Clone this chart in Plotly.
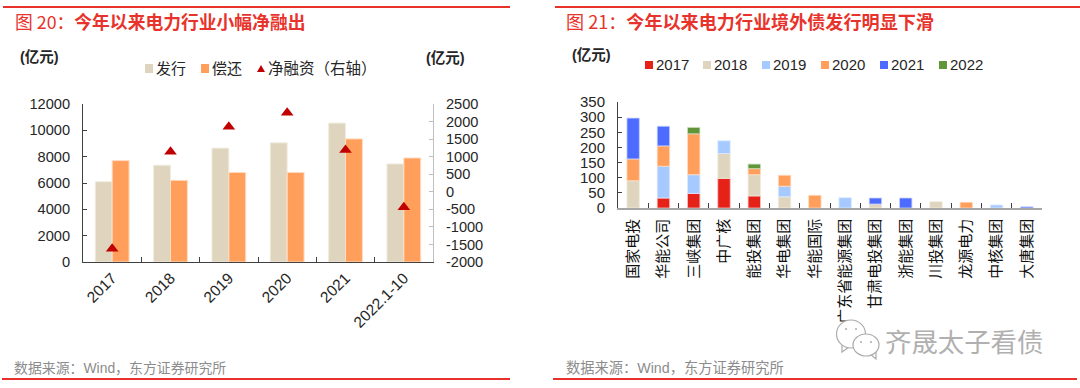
import plotly.graph_objects as go

W, H = 1080, 388
FONT = "Liberation Sans, Noto Sans CJK SC, sans-serif"
CJK = "Noto Sans CJK SC, sans-serif"

BEIGE, ORANGE, TRI = "#DFD5BE", "#FF9F5B", "#C00000"
RED, LBLUE, BLUE, GREEN = "#E62117", "#A6CAFF", "#4D6BFF", "#5F963A"
HALO = {BEIGE: "#F1ECE0", ORANGE: "#FFDCC3", RED: "#F7C0BC", LBLUE: "#DCEAFF", BLUE: "#C9D3FF", GREEN: "#CBDDBF"}
DARK = "#262626"

# ---- left chart data
years = ["2017", "2018", "2019", "2020", "2021", "2022.1-10"]
issue = [6100, 7350, 8650, 9050, 10550, 7450]
repay = [7700, 6200, 6800, 6800, 9350, 7900]
net = [-1620, 1140, 1850, 2250, 1190, -440]
left_ticks = [0, 2000, 4000, 6000, 8000, 10000, 12000]
right_ticks = [-2000, -1500, -1000, -500, 0, 500, 1000, 1500, 2000, 2500]
right_labels = ["-2000", "-1500", "-1000", "-500", "0", "500", "1000", "1500", "2000", "2500"]

# ---- right chart data
firms = ["国家电投", "华能公司", "三峡集团", "中广核", "能投集团", "华电集团", "华能国际",
         "广东省能源集团", "甘肃电投集团", "浙能集团", "川投集团", "龙源电力", "中核集团", "大唐集团"]
s2017 = [None, 33, 48, 98, 40, None, None, None, None, None, None, None, None, None]
s2018 = [90, None, None, 82, 70, 37, None, None, 13, None, 21, None, None, None]
s2019 = [None, 105, 62, 42, None, 35, None, 34, None, None, None, None, 10, None]
s2020 = [72, 67, 135, None, 20, 36, 42, None, None, None, None, 19, None, None]
s2021 = [135, 65, None, None, None, None, None, None, 20, 33, None, None, None, 4]
s2022 = [None, None, 21, None, 15, None, None, None, None, None, None, None, None, None]

NET_LABEL = "净融资\uff08右轴\uff09"
SOURCE = "数据来源\uff1aWind\uff0c东方证券研究所"
TITLE_L = "图 20\uff1a<b>今年以来电力行业小幅净融出</b>"
TITLE_R = "图 21\uff1a<b>今年以来电力行业境外债发行明显下滑</b>"

fig = go.Figure()
fig.add_trace(go.Bar(x=years, y=issue, name="发行", marker=dict(color=BEIGE, line=dict(color=HALO[BEIGE], width=1)),
                     xaxis="x", yaxis="y"))
fig.add_trace(go.Bar(x=years, y=repay, name="偿还", marker=dict(color=ORANGE, line=dict(color=HALO[ORANGE], width=1)),
                     xaxis="x", yaxis="y"))
fig.add_trace(go.Scatter(x=years, y=net, name=NET_LABEL, mode="markers", xaxis="x", yaxis="y2",
                         marker=dict(symbol="triangle-up", size=11, color=TRI)))
for name, vals, col in [("2017", s2017, RED), ("2018", s2018, BEIGE), ("2019", s2019, LBLUE),
                        ("2020", s2020, ORANGE), ("2021", s2021, BLUE), ("2022", s2022, GREEN)]:
    fig.add_trace(go.Bar(x=firms, y=vals, name=name, marker=dict(color=col, line=dict(color=HALO[col], width=0.8)),
                         xaxis="x2", yaxis="y3"))


def px(v):
    return v / W


def py(v):
    return 1 - v / H


tf = dict(family=FONT, size=14.6, color=DARK)
shapes, notes = [], []


def line(x0, x1, y):
    shapes.append(dict(type="line", xref="paper", yref="paper", x0=px(x0), x1=px(x1), y0=py(y), y1=py(y),
                       line=dict(color="#E8312A", width=2)))


def text(x, y, s, size=15, color=DARK, family=FONT, anchor="left"):
    notes.append(dict(xref="paper", yref="paper", x=px(x), y=py(y), text=s, showarrow=False, xanchor=anchor,
                      yanchor="middle", font=dict(size=size, color=color, family=family),
                      borderpad=0, borderwidth=0, align="left"))


def swatch(x0, x1, y0, y1, col):
    shapes.append(dict(type="rect", xref="paper", yref="paper", x0=px(x0), x1=px(x1), y0=py(y0), y1=py(y1),
                       fillcolor=col, line=dict(width=0)))


def poly(points, fill, edge=None):
    path = "M " + " L ".join(f"{px(x)} {py(y)}" for x, y in points) + " Z"
    shapes.append(dict(type="path", xref="paper", yref="paper", path=path, fillcolor=fill,
                       line=dict(color=edge, width=1.2) if edge else dict(width=0)))


# rules
line(3, 510, 7); line(555, 1080, 7); line(2, 510, 379); line(553, 1077, 379)
# titles
TRED = "#E8332C"
text(15, 21, TITLE_L, 17.8, TRED, CJK)
text(566, 21, TITLE_R, 18.1, TRED, CJK)
# units
text(20, 57, "<b>(亿元)</b>", 14.5)
text(426, 58, "<b>(亿元)</b>", 14.5)
text(572, 55, "<b>(亿元)</b>", 14.5)
# source
text(14, 368, SOURCE, 13.9, "#8C8C8C")
text(566, 368, SOURCE, 14.25, "#8C8C8C")

# left legend
swatch(145, 153, 64, 73, BEIGE)
text(156, 68, "发行")
swatch(201, 209, 64, 73, ORANGE)
text(212, 68, "偿还")
poly([(257, 72), (265, 72), (261, 65)], TRI)
text(268, 68, NET_LABEL, 15.5)
# right legend
for x0, lab, col in [(645, "2017", RED), (703, "2018", BEIGE), (762, "2019", LBLUE),
                     (821, "2020", ORANGE), (880, "2021", BLUE), (939, "2022", GREEN)]:
    swatch(x0, x0 + 8, 61, 69, col)
    text(x0 + 11, 65, lab, 15)

# watermark
WM = "#ABABAB"
poly([(842, 345), (842, 352), (849, 347)], "white", WM)
poly([(870, 354), (876, 359), (876, 352)], "white", WM)
for cx, cy, rx, ry in [(851, 334, 14.5, 14), (866, 345, 13, 11)]:
    shapes.append(dict(type="circle", xref="paper", yref="paper", x0=px(cx - rx), x1=px(cx + rx),
                       y0=py(cy - ry), y1=py(cy + ry), fillcolor="white", line=dict(color=WM, width=1.2)))
for cx, cy in [(846, 329), (856, 329), (861, 342), (871, 342)]:
    shapes.append(dict(type="circle", xref="paper", yref="paper", x0=px(cx - 1), x1=px(cx + 1),
                       y0=py(cy - 1), y1=py(cy + 1), fillcolor=WM, line=dict(width=0)))
text(885, 340, "齐晟太子看债", 26.4, "#B0B0B0", CJK)

yax = dict(showline=True, linecolor="#404040", linewidth=1, ticks="inside", ticklen=4, tickcolor="#404040",
           showgrid=False, zeroline=False, tickfont=tf, ticklabelstandoff=9, automargin=False)
xax = dict(showline=True, linecolor="#404040", linewidth=1, ticks="inside", ticklen=5, tickcolor="#404040",
           showgrid=False, zeroline=False, tickson="boundaries", type="category", tickfont=tf, automargin=False)

fig.update_layout(
    width=W, height=H, autosize=False, margin=dict(l=0, r=0, t=0, b=0, pad=0, autoexpand=False),
    paper_bgcolor="white", plot_bgcolor="white", showlegend=False,
    barmode="group", bargap=0.42, bargroupgap=0,
    font=dict(family=FONT),
    shapes=shapes, annotations=notes,
    xaxis=dict(xax, domain=[px(83), px(433)], anchor="y", tickangle=-45, range=[-0.5, 5.5],
               tickfont=dict(family=FONT, size=15.5, color=DARK)),
    yaxis=dict(yax, domain=[py(262), py(104)], anchor="x", range=[0, 12000], tickvals=left_ticks,
               ticktext=[str(v) for v in left_ticks]),
    yaxis2=dict(yax, domain=[py(262), py(104)], anchor="x", overlaying="y", side="right", range=[-2000, 2500],
                tickvals=right_ticks, ticktext=right_labels, linecolor="#BFBFBF", tickcolor="#BFBFBF"),
    xaxis2=dict(xax, domain=[px(618), px(1042)], anchor="y3", tickangle=-90, range=[-0.5, 13.5], linecolor="#A6A6A6",
                linewidth=1.5, ticklabelstandoff=3, tickfont=dict(family=FONT, size=15, color="#111111")),
    yaxis3=dict(yax, domain=[py(208), py(102)], anchor="x2", range=[0, 350], dtick=50,
                tickfont=dict(family=FONT, size=15, color=DARK)),
)
for t in fig.data[3:]:
    t.offsetgroup = "stack"
    t.width = 0.41
fig.data[0].offsetgroup = "a"
fig.data[1].offsetgroup = "b"
base = [0] * len(firms)
for t in fig.data[3:]:
    t.base = list(base)
    base = [b + (v or 0) for b, v in zip(base, t.y)]

POST = ("document.documentElement.style.overflow='hidden';document.body.style.margin='0';"
        "var d=document.getElementById('{plot_id}');d.style.position='fixed';d.style.left='0';d.style.top='0';"
        "d.style.width='1080px';d.style.height='388px';")
fig.write_html("out.html", post_script=POST, config={"displayModeBar": False})
